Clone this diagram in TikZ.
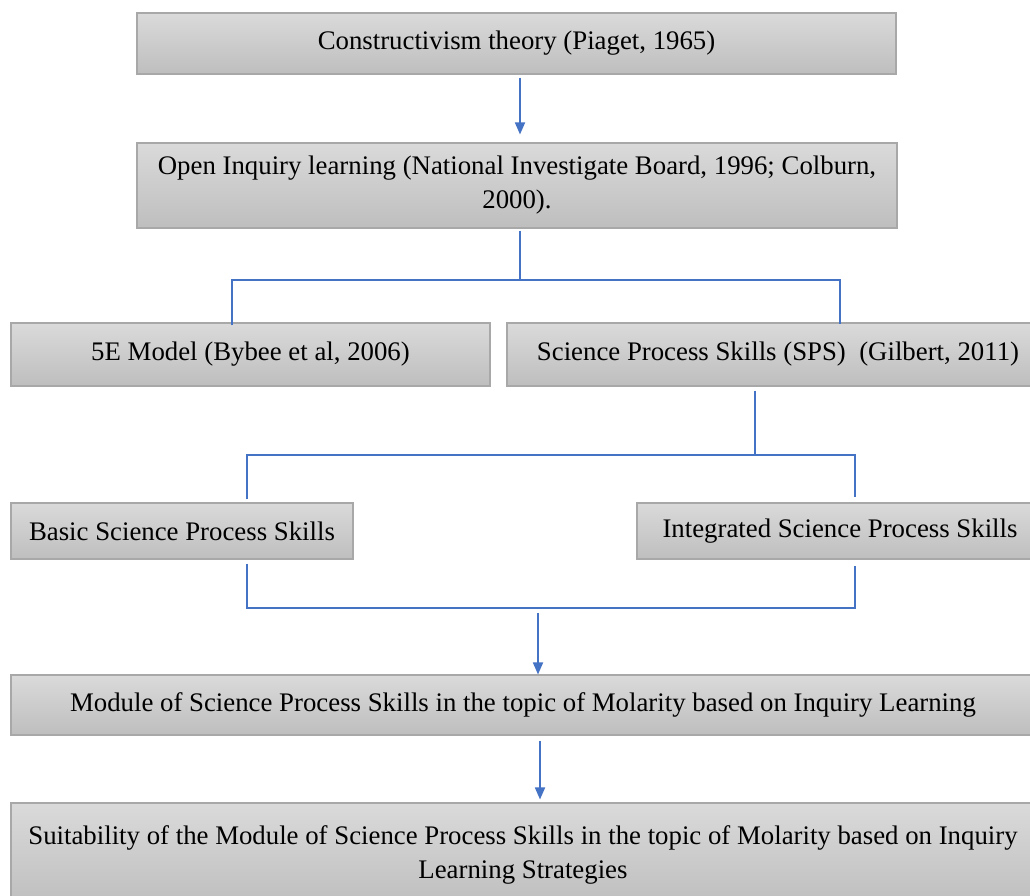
\documentclass[tikz,border=0pt]{standalone}
\usepackage{fontspec}
\setmainfont{Liberation Serif}
\usetikzlibrary{arrows.meta}
\definecolor{linkblue}{HTML}{4472C4}
\definecolor{boxtop}{HTML}{DADADA}
\definecolor{boxbot}{HTML}{BEBEBE}
\definecolor{boxedge}{HTML}{A8A8A8}
\newcommand{\pxu}{0.75pt}
\tikzset{
  box/.style={rectangle, draw=boxedge, line width=0.8pt, top color=boxtop, bottom color=boxbot,
    inner sep=0pt, align=center, text=black,
    font=\fontsize{20.1}{25.5}\selectfont},
  conn/.style={draw=linkblue, line width=0.9pt},
  arr/.style={draw=linkblue, line width=1.3pt, -{Triangle[width=7.5pt,length=9pt]}}
}
\begin{document}
\begin{tikzpicture}[x=0.75pt, y=-0.75pt]
\path[use as bounding box, clip] (0,0) rectangle (1030,895);

% framework boxes
\node[box, minimum width=759*\pxu, minimum height=61*\pxu] (ct) at (516.5,43.5)
  {Constructivism theory (Piaget, 1965)};
\node[box, minimum width=760*\pxu, minimum height=85*\pxu] (oi) at (517,185.5)
  {Open Inquiry learning (National Investigate Board, 1996; Colburn,\\ 2000).};
\node[box, minimum width=479*\pxu, minimum height=63*\pxu] (fe) at (250.5,354.5)
  {5E Model (Bybee et al, 2006)};
\node[box, minimum width=526*\pxu, minimum height=63*\pxu] (sps) at (770,354.5)
  {\hspace*{12pt}Science Process Skills (SPS)\ \ (Gilbert, 2011)};
\node[box, minimum width=342*\pxu, minimum height=56*\pxu] (bs) at (182,531)
  {Basic Science Process Skills};
\node[box, minimum width=398*\pxu, minimum height=56*\pxu] (is) at (836,531)
  {\hspace*{6pt}Integrated Science Process Skills};
\node[box, minimum width=1024*\pxu, minimum height=60*\pxu] (md) at (523,705)
  {Module of Science Process Skills in the topic of Molarity based on Inquiry Learning};
\node[box, minimum width=1024*\pxu, minimum height=104*\pxu] (su) at (523,855)
  {Suitability of the Module of Science Process Skills in the topic of Molarity based on Inquiry\\ Learning Strategies};

% junction points of the branching lines
\coordinate (j1) at (520,280);
\coordinate (j1l) at (232,280);
\coordinate (j1r) at (840,280);
\coordinate (j2) at (755,455);
\coordinate (j2l) at (247,455);
\coordinate (j2r) at (855,455);
\coordinate (j3l) at (247,608);
\coordinate (j3r) at (855,608);
\coordinate (j3m) at (538,608);

% connectors
\draw[arr] ([xshift=3.5*\pxu, yshift=-3*\pxu]ct.south) -- ([xshift=3*\pxu, yshift=8*\pxu]oi.north);
\draw[conn] ([yshift=-2*\pxu]oi.south -| j1) -- (j1);
\draw[conn] ([yshift=-3*\pxu]fe.north -| j1l) -- (j1l) -- (j1r) -- ([yshift=-2*\pxu]sps.north -| j1r);
\draw[conn] ([yshift=-4*\pxu]sps.south -| j2) -- (j2);
\draw[conn] ([yshift=3*\pxu]bs.north -| j2l) -- (j2l) -- (j2r) -- ([yshift=5*\pxu]is.north -| j2r);
\draw[conn] ([yshift=-4*\pxu]bs.south -| j3l) -- (j3l) -- (j3r) -- ([yshift=-6*\pxu]is.south -| j3r);
\draw[arr] ([yshift=-5*\pxu]j3m) -- (md.north -| j3m);
\draw[arr] ([xshift=2*\pxu, yshift=-5*\pxu]md.south -| j3m) -- ([xshift=2*\pxu, yshift=3*\pxu]su.north -| j3m);
\end{tikzpicture}
\end{document}
